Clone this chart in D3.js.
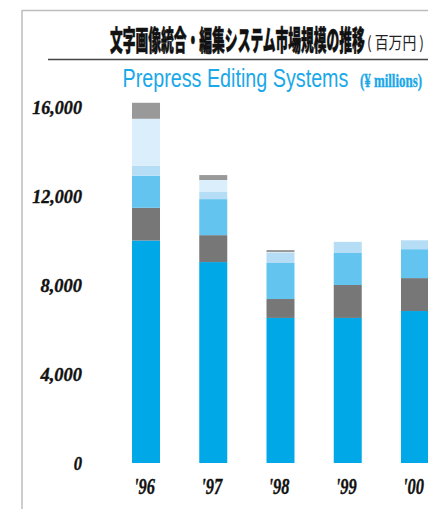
<!DOCTYPE html>
<html><head><meta charset="utf-8">
<script src="https://cdn.jsdelivr.net/npm/d3@7"></script>
<style>html,body{margin:0;padding:0;background:#fff;overflow:hidden}</style>
</head><body>
<svg id="c" width="428" height="509"></svg>
<script>
const years = ["'96","'97","'98","'99","'00"];
const seriesKeys = ["s1","s2","s3","s4","s5","s6"];
const s1 = [10000, 9030, 6520, 6520, 6830];
const s2 = [1470, 1210, 850, 1480, 1480];
const s3 = [1440, 1620, 1620, 1440, 1300];
const s4 = [450, 320, 450, 500, 400];
const s5 = [2110, 540, 40, 0, 0];
const s6 = [720, 220, 90, 0, 0];
const colors = ["#00a8e8", "#777777", "#63c4f0", "#b6ddf6", "#daeefb", "#999999"];
const yTicks = [0, 4000, 8000, 12000, 16000];
const titleJa = "文字画像統合・編集システム市場規模の推移";
const titleUnit = "( 百万円 )";
const titleEn = "Prepress Editing Systems";
const unitEn = "(¥ millions)";

const rows = years.map((y, i) => ({year: y, s1: s1[i], s2: s2[i], s3: s3[i], s4: s4[i], s5: s5[i], s6: s6[i]}));
const svg = d3.select("#c");

// helper: draw text compressed horizontally to a target width via transform
function fitText(g, str, x, y, width, anchor, attrs) {
  const t = g.append("text").text(str);
  for (const k in attrs) t.attr(k, attrs[k]);
  const w = t.node().getComputedTextLength();
  const s = width / w;
  let x0 = x;
  if (anchor === "end") x0 = x - width;
  if (anchor === "middle") x0 = x - width / 2;
  t.attr("transform", `translate(${x0},${y}) scale(${s},1)`);
  return t;
}

// frame
svg.append("line").attr("x1", 22).attr("x2", 428).attr("y1", 10.5).attr("y2", 10.5).attr("stroke", "#bdbdbd").attr("stroke-width", 1.5);
svg.append("line").attr("x1", 22).attr("x2", 22).attr("y1", 10).attr("y2", 509).attr("stroke", "#bdbdbd").attr("stroke-width", 1.5);

// titles
fitText(svg, titleJa, 110, 50.5, 255, "start", {"font-family": "Noto Sans CJK JP", "font-weight": 900, "font-size": 28, "fill": "#111", "stroke": "#111", "stroke-width": 0.6});
fitText(svg, titleUnit, 367, 49, 57, "start", {"font-family": "Noto Sans CJK JP", "font-weight": 400, "font-size": 17, "fill": "#222"});
svg.append("line").attr("x1", 48).attr("x2", 428).attr("y1", 59.5).attr("y2", 59.5).attr("stroke", "#444").attr("stroke-width", 1.3);
fitText(svg, titleEn, 122.5, 87, 226, "start", {"font-family": "Liberation Sans", "font-size": 25, "fill": "#1aa8e8"});
fitText(svg, unitEn, 360, 86.5, 62, "start", {"font-family": "Liberation Serif", "font-weight": 700, "font-size": 18.5, "fill": "#1aa8e8", "stroke": "#1aa8e8", "stroke-width": 0.4});

// scales
const x = d3.scaleBand().domain(years).range([112.4, 448.6]).paddingInner(0.5837).paddingOuter(0.2918);
const y = d3.scaleLinear().domain([0, 16000]).range([463, 107]);

const stacked = d3.stack().keys(seriesKeys)(rows);
svg.append("g").selectAll("g").data(stacked).join("g")
  .attr("fill", (d, i) => colors[i])
  .selectAll("rect").data(d => d).join("rect")
  .attr("x", d => x(d.data.year))
  .attr("width", x.bandwidth())
  .attr("y", d => y(d[1]))
  .attr("height", d => Math.max(0, y(d[0]) - y(d[1])));

// y labels
const yAxis = svg.append("g");
const fmt = d3.format(",");
yTicks.forEach(v => {
  const s = fmt(v);
  fitText(yAxis, s, 82, y(v) + 6.5, s.length * 8.3, "end", {"font-family": "Liberation Serif", "font-weight": 700, "font-style": "italic", "font-size": 19.5, "fill": "#111", "stroke": "#111", "stroke-width": 0.4});
});

// x labels
const xAxis = svg.append("g");
years.forEach(yr => {
  fitText(xAxis, yr, x(yr) + x.bandwidth() / 2 - 1.5, 494, 21, "middle", {"font-family": "Liberation Serif", "font-weight": 700, "font-style": "italic", "font-size": 24, "fill": "#111", "stroke": "#111", "stroke-width": 0.4});
});
</script>
</body></html>
